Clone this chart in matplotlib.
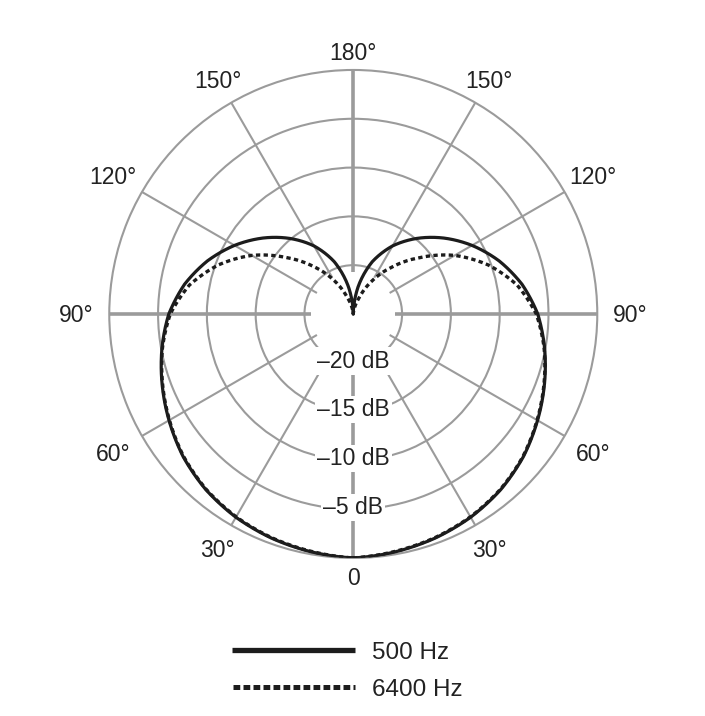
import matplotlib
matplotlib.use("Agg")
import matplotlib.pyplot as plt
import matplotlib.transforms as mtransforms
from matplotlib.lines import Line2D
import numpy as np

plt.rcParams['font.family'] = ['Liberation Sans', 'DejaVu Sans']

angles = [0, 10, 20, 30, 40, 50, 60, 70, 80, 90, 100, 110, 120, 130, 140, 150, 160, 170, 175, 180]
level_500 = [0, -0.25, -0.55, -0.95, -1.5, -2.25, -3.2, -4.15, -5.1, -6.1, -7.45, -9.1,
             -10.95, -12.9, -14.9, -16.95, -19.3, -22.2, -23.8, -25]
level_6400 = [0, -0.3, -0.6, -1.0, -1.55, -2.3, -3.25, -4.2, -5.15, -6.25, -7.95, -10.3,
              -13.0, -16.0, -18.65, -21.0, -23.2, -24.5, -24.85, -25]

ring_db = [-20, -15, -10, -5]
ring_labels = ['\u201320 dB', '\u201315 dB', '\u201310 dB', '\u20135 dB']
angle_ticks = [0, 30, 60, 90, 120, 150, 180]
angle_labels = ['0', '30\u00b0', '60\u00b0', '90\u00b0', '120\u00b0', '150\u00b0', '180\u00b0']
series_names = ['500 Hz', '6400 Hz']

grey = '#9b9b9b'
ink = '#1c1c1c'
txt = '#222222'


def mirror(vals):
    # full circle from the half-plane reading
    return list(vals) + list(vals[-2::-1])


theta = np.deg2rad(angles + [360 - a for a in angles[-2::-1]])

fig = plt.figure(figsize=(7.05, 7.16), dpi=100)
ax = fig.add_axes([0.155, 0.2207, 0.6922, 0.6816], projection='polar')
ax.set_theta_zero_location('S')
ax.set_rlim(-25, 0)
ax.set_rticks(ring_db)
ax.set_yticklabels([])
ax.set_xticks([])
ax.yaxis.grid(True, color=grey, lw=1.5)
ax.spines['polar'].set_color(grey)
ax.spines['polar'].set_linewidth(1.5)

# spokes start a little inside the -20 dB ring
for a in range(0, 360, 30):
    lw = 2.6 if a % 90 == 0 else 1.5
    ax.plot([np.deg2rad(a)] * 2, [-20.7, 0], color=grey, lw=lw, zorder=1,
            solid_capstyle='butt')

l500, = ax.plot(theta, mirror(level_500), color=ink, lw=2.3, zorder=4)
l6400, = ax.plot(theta, mirror(level_6400), color=ink, lw=2.4, zorder=4,
                 linestyle=(0, (1.3, 1.0)), dash_capstyle='butt')
# let the polar transform draw each segment as an arc instead of a chord
for ln in (l500, l6400):
    ln.get_path()._interpolation_steps = 30

# text anchored at its visual middle
fs = 16.5
half_cap = fs / 72 * 0.716 / 2
mid = ax.transData + mtransforms.ScaledTranslation(0, -half_cap, fig.dpi_scale_trans)

for v, lab in zip(ring_db, ring_labels):
    ax.text(0, v - 0.35, lab, transform=mid, ha='center', va='baseline',
            fontsize=fs, color=txt, zorder=5,
            bbox=dict(fc='white', ec='none', pad=1.5))

label_r = {0: 1.88, 30: 2.8, 60: 3.42, 90: 3.35, 120: 3.4, 150: 2.75, 180: 1.82}
for a, lab in zip(angle_ticks, angle_labels):
    sides = [a] if a in (0, 180) else [a, 360 - a]
    for s in sides:
        ax.text(np.deg2rad(s), label_r[a], lab, transform=mid, ha='center',
                va='baseline', fontsize=fs, color=txt, clip_on=False)

# legend drawn by hand
fig.add_artist(Line2D([0.329, 0.5035], [0.0922, 0.0922], color=ink, lw=3.8,
                      solid_capstyle='butt'))
fig.add_artist(Line2D([0.331, 0.5035], [0.0405, 0.0405], color=ink, lw=3.6,
                      linestyle=(0, (1.35, 0.65)), dash_capstyle='butt'))
fig.text(0.5277, 0.080, series_names[0], fontsize=17.5, color=txt, va='baseline')
fig.text(0.5277, 0.0283, series_names[1], fontsize=17.5, color=txt, va='baseline')

fig.savefig('out.png', dpi=100, facecolor='white')
